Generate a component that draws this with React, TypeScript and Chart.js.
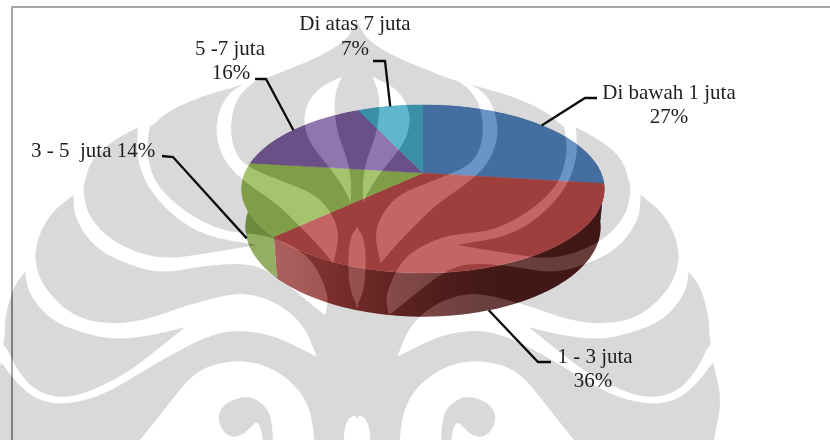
import React, { useEffect, useRef } from "react";
import { Chart, registerables } from "chart.js";

Chart.register(...registerables);

// Monthly income groups and their shares, in drawing order clockwise from twelve o'clock.
const categories = ["Di bawah 1 juta", "1 - 3 juta", "3 - 5  juta", "5 -7 juta", "Di atas 7 juta"];
const shares = [27, 36, 14, 16, 7];

const topColors = ["#6a93c6", "#c56563", "#a6c46e", "#9176ae", "#60b6ce"];
const wallColors = ["#4a6d9c", "#8a4a48", "#94ae63", "#6f5a8c", "#3f8fa6"];
const redWallStops: [number, string][] = [
  [0, "#ad6160"],
  [0.18, "#a05553"],
  [0.4, "#824846"],
  [0.64, "#693f3d"],
  [1, "#663d3b"],
];

// Where each callout sits: its text lines, the elbow of its leader, and which rim it leaves from.
type Callout = {
  lines: [string, number, number, CanvasTextAlign][];
  elbow: [number, number][];
  rim: "top" | "bottom";
};
const pct = (i: number) => `${shares[i]}%`;
const callouts: Callout[] = [
  { lines: [[categories[0], 669, 99, "center"], [pct(0), 669, 123, "center"]], elbow: [[585, 98], [597, 98]], rim: "top" },
  { lines: [[categories[1], 595, 363, "center"], [pct(1), 593, 387, "center"]], elbow: [[538, 362], [551, 362]], rim: "bottom" },
  { lines: [[`${categories[2]} ${pct(2)}`, 31, 157, "left"]], elbow: [[173, 157], [162, 156]], rim: "bottom" },
  { lines: [[categories[3], 230, 55, "center"], [pct(3), 231, 79, "center"]], elbow: [[266, 79], [255, 79]], rim: "top" },
  { lines: [[categories[4], 355, 30, "center"], [pct(4), 355, 55, "center"]], elbow: [[385, 61], [373, 61]], rim: "top" },
];

// Pie tilt: front-to-back foreshortening, perspective strength, lower-face scale and thickness.
const SQUASH = 0.455;
const PERSPECTIVE = 0.19;
const BASE_SCALE = 0.98;
const THICKNESS = 37;

type Pt = [number, number];

function project(cx: number, cy: number, r: number, theta: number, lower: boolean): Pt {
  const u = Math.sin(theta);
  const v = -Math.cos(theta);
  const d = 1 - PERSPECTIVE * v;
  const k = lower ? BASE_SCALE : 1;
  return [cx + (r * k * u) / d, cy + (r * SQUASH * k * v + (lower ? THICKNESS : 0)) / d];
}

function rimPoints(cx: number, cy: number, r: number, a: number, b: number, lower: boolean): Pt[] {
  const steps = Math.max(2, Math.ceil((b - a) / 0.02));
  const out: Pt[] = [];
  for (let i = 0; i <= steps; i++) out.push(project(cx, cy, r, a + ((b - a) * i) / steps, lower));
  return out;
}

// Background emblem, left half, traced at three times page scale; the right half is its mirror.
const emblemBody: Pt[] = [
  [1072, 68], [1072, 68], [1040, 120], [960, 170], [860, 210], [790, 238], [700, 262], [600, 290], [500, 335], [450, 385],
  [415, 382], [415, 382], [340, 420], [270, 480], [250, 570], [220, 585], [220, 585], [150, 640], [110, 720],
  [105, 790], [75, 815], [75, 815], [40, 860], [15, 950], [15, 1000], [3, 1086], [3, 1086], [-24, 1200], [-3, 1300],
  [5, 1345], [1110, 1345], [1110, 1345], [1110, 130],
];
const emblemCuts: Pt[][] = [
  // inner crescent over the crown
  [[1025, 230], [1025, 230], [960, 260], [920, 310], [910, 370], [930, 430], [970, 480], [1010, 530], [1040, 580],
   [1052, 610], [1052, 610], [1055, 540], [1040, 470], [1015, 410], [1003, 340], [1005, 280]],
  // first long flame
  [[775, 238], [775, 238], [700, 265], [660, 320], [645, 400], [670, 480], [725, 540], [830, 610], [890, 670],
   [950, 730], [1000, 790], [1000, 790], [1020, 700], [990, 630], [940, 580], [850, 545], [750, 505], [710, 470],
   [690, 400], [700, 320], [730, 270]],
  // second and third channels, which join under the pie
  [[452, 375], [445, 400], [440, 470], [470, 560], [560, 640], [660, 690], [745, 700], [815, 710], [900, 750],
   [945, 795], [975, 860], [985, 900], [975, 945], [975, 945], [930, 910], [870, 860], [800, 810], [740, 790],
   [620, 795], [490, 820], [400, 800], [290, 750], [225, 660], [220, 590], [220, 585], [225, 545], [252, 545], [250, 580], [265, 650],
   [340, 730], [480, 780], [620, 760], [770, 735], [770, 735], [620, 710], [520, 650], [440, 560], [410, 470],
   [413, 395], [415, 375], [435, 335]],
  // wide lower sweep around the side lobe
  [[108, 770], [108, 800], [130, 860], [210, 945], [320, 975], [440, 960], [560, 915], [700, 880], [770, 885],
   [850, 920], [915, 980], [950, 1070], [950, 1070], [870, 1030], [800, 1000], [700, 990], [620, 1010], [520, 1060],
   [420, 1120], [300, 1190], [190, 1215], [110, 1200], [50, 1150], [3, 1086], [3, 1086], [-20, 1060], [-20, 1030], [15, 1030], [45, 1100],
   [100, 1170], [180, 1195], [260, 1180], [380, 1120], [470, 1050], [555, 982], [555, 982], [460, 1005], [350, 1020],
   [250, 1000], [150, 960], [85, 880], [75, 815], [75, 790], [90, 770]],
  // bottom hollow
  [[400, 1345], [400, 1345], [500, 1220], [570, 1130], [640, 1090], [740, 1080], [830, 1110], [900, 1170], [935, 1240],
   [945, 1345], [945, 1345]],
  // central tear
  [[1074, 680], [1074, 680], [1050, 710], [1043, 790], [1050, 870], [1074, 925], [1074, 925]],
  // central arch
  [[1074, 1345], [1074, 1345], [1074, 1245], [1050, 1250], [1033, 1280], [1030, 1345], [1030, 1345]],
];
const emblemSpiral: Pt[] = [
  [740, 1185], [670, 1210], [650, 1260], [680, 1310], [720, 1310], [750, 1285], [770, 1262], [785, 1290],
  [790, 1345], [790, 1345], [820, 1345], [820, 1345], [815, 1250], [790, 1210],
];

function tracePath(ctx: CanvasRenderingContext2D, pts: Pt[]) {
  const mid = (a: Pt, b: Pt): Pt => [(a[0] + b[0]) / 2, (a[1] + b[1]) / 2];
  const n = pts.length;
  const start = mid(pts[n - 1], pts[0]);
  ctx.beginPath();
  ctx.moveTo(start[0], start[1]);
  for (let i = 0; i < n; i++) {
    const m = mid(pts[i], pts[(i + 1) % n]);
    ctx.quadraticCurveTo(pts[i][0], pts[i][1], m[0], m[1]);
  }
  ctx.closePath();
}

function renderEmblem(width: number, height: number): HTMLCanvasElement {
  const layer = document.createElement("canvas");
  layer.width = width;
  layer.height = height;
  const g = layer.getContext("2d")!;
  const bothSides = (fn: () => void) => {
    g.save();
    g.scale(1 / 3, 1 / 3);
    fn();
    g.restore();
    g.save();
    g.translate(714, 0);
    g.scale(-1 / 3, 1 / 3);
    fn();
    g.restore();
  };
  g.fillStyle = "#262626";
  bothSides(() => {
    tracePath(g, emblemBody);
    g.fill();
  });
  g.globalCompositeOperation = "destination-out";
  bothSides(() => {
    for (const cut of emblemCuts) {
      tracePath(g, cut);
      g.fill();
    }
  });
  g.globalCompositeOperation = "source-over";
  bothSides(() => {
    tracePath(g, emblemSpiral);
    g.fill();
  });
  return layer;
}

const tiltedPie = {
  id: "tiltedPie",
  beforeDraw(chart: Chart) {
    const { ctx, width, height } = chart;
    ctx.save();
    ctx.fillStyle = "#ffffff";
    ctx.fillRect(0, 0, width, height);
    ctx.fillStyle = "#a6a6a6";
    ctx.fillRect(11, 6, width - 11, 2);
    ctx.fillRect(11, 6, 2, height - 6);
    ctx.restore();
  },
  beforeDatasetDraw(chart: Chart) {
    const { ctx } = chart;
    const arcs = chart.getDatasetMeta(0).data as any[];
    ctx.save();
    arcs.forEach((arc, i) => {
      const a = arc.startAngle + Math.PI / 2;
      const b = arc.endAngle + Math.PI / 2;
      const upper = rimPoints(arc.x, arc.y, arc.outerRadius, a, b, false);
      const lower = rimPoints(arc.x, arc.y, arc.outerRadius, a, b, true);
      ctx.beginPath();
      [...upper, ...lower.reverse()].forEach((p, j) => (j ? ctx.lineTo(p[0], p[1]) : ctx.moveTo(p[0], p[1])));
      ctx.closePath();
      if (i === 1) {
        const grad = ctx.createLinearGradient(270, 0, 600, 0);
        redWallStops.forEach(([at, color]) => grad.addColorStop(at, color));
        ctx.fillStyle = grad;
      } else {
        ctx.fillStyle = wallColors[i];
      }
      ctx.fill();
    });
    arcs.forEach((arc, i) => {
      const a = arc.startAngle + Math.PI / 2;
      const b = arc.endAngle + Math.PI / 2;
      const rim = rimPoints(arc.x, arc.y, arc.outerRadius, a, b, false);
      ctx.beginPath();
      ctx.moveTo(arc.x, arc.y);
      rim.forEach((p) => ctx.lineTo(p[0], p[1]));
      ctx.closePath();
      ctx.fillStyle = topColors[i];
      ctx.strokeStyle = topColors[i];
      ctx.lineWidth = 0.4;
      ctx.fill();
      ctx.stroke();
    });
    ctx.restore();
    return false;
  },
  afterDatasetsDraw(chart: Chart) {
    const { ctx, width, height } = chart;
    const arcs = chart.getDatasetMeta(0).data as any[];
    ctx.save();
    // The emblem darkens whatever lies below it by a constant amount.
    ctx.globalCompositeOperation = "difference";
    ctx.drawImage(renderEmblem(width, height), 0, 0);
    ctx.globalCompositeOperation = "source-over";

    ctx.strokeStyle = "#0c0c0c";
    ctx.lineWidth = 2.3;
    ctx.lineJoin = "miter";
    ctx.font = '21px "Liberation Serif"';
    ctx.fillStyle = "#1e1e1e";
    ctx.textBaseline = "alphabetic";
    arcs.forEach((arc, i) => {
      const c = callouts[i];
      const mid = (arc.startAngle + arc.endAngle) / 2 + Math.PI / 2;
      const anchor = project(arc.x, arc.y, arc.outerRadius, mid, c.rim === "bottom");
      ctx.beginPath();
      ctx.moveTo(anchor[0], anchor[1]);
      c.elbow.forEach((p) => ctx.lineTo(p[0], p[1]));
      ctx.stroke();
      c.lines.forEach(([text, x, y, align]) => {
        ctx.textAlign = align;
        ctx.fillText(text, x, y);
      });
    });
    ctx.restore();
  },
};

export default function App() {
  const ref = useRef<HTMLCanvasElement>(null);
  useEffect(() => {
    const chart = new Chart(ref.current!, {
      type: "pie",
      data: {
        labels: categories,
        datasets: [{ data: shares, backgroundColor: topColors, borderWidth: 0 }],
      },
      options: {
        animation: false,
        responsive: false,
        events: [],
        radius: 178,
        layout: { padding: { left: 16, bottom: 94 } },
        plugins: { legend: { display: false }, tooltip: { enabled: false }, title: { display: false } },
      },
      plugins: [tiltedPie],
    } as any);
    return () => chart.destroy();
  }, []);
  return (
    <canvas
      ref={ref}
      width={830}
      height={440}
      style={{ position: "absolute", left: 0, top: 0, width: 830, height: 440, display: "block" }}
    />
  );
}
